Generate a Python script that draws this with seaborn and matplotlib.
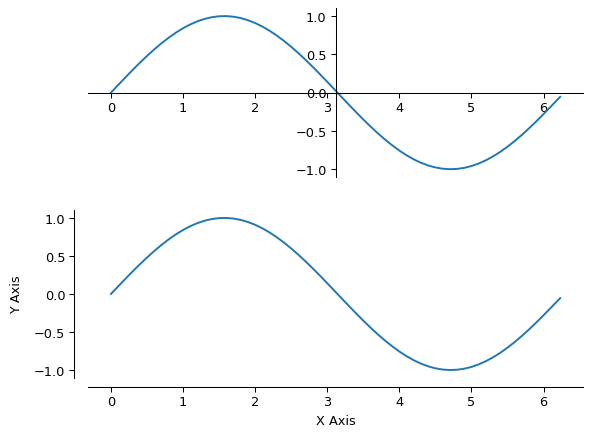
import matplotlib
matplotlib.use('Agg')
import matplotlib.pyplot as plt
import seaborn as sns

# sample points of the curve
x_vals = [0.0, 0.1, 0.2, 0.3, 0.4, 0.5, 0.6, 0.7, 0.8, 0.9,
          1.0, 1.1, 1.2, 1.3, 1.4, 1.5, 1.6, 1.7, 1.8, 1.9,
          2.0, 2.1, 2.2, 2.3, 2.4, 2.5, 2.6, 2.7, 2.8, 2.9,
          3.0, 3.1, 3.2, 3.3, 3.4, 3.5, 3.6, 3.7, 3.8, 3.9,
          4.0, 4.1, 4.2, 4.3, 4.4, 4.5, 4.6, 4.7, 4.8, 4.9,
          5.0, 5.1, 5.2, 5.3, 5.4, 5.5, 5.6, 5.7, 5.8, 5.9,
          6.0, 6.1, 6.23]
y_vals = [0.000, 0.0998, 0.1987, 0.2955, 0.3894, 0.4794, 0.5646, 0.6442, 0.7174, 0.7833,
          0.8415, 0.8912, 0.9320, 0.9636, 0.9854, 0.9975, 0.9996, 0.9917, 0.9738, 0.9463,
          0.9093, 0.8632, 0.8085, 0.7457, 0.6755, 0.5985, 0.5155, 0.4274, 0.3350, 0.2392,
          0.1411, 0.0416, -0.0584, -0.1577, -0.2555, -0.3508, -0.4425, -0.5298, -0.6119, -0.6878,
          -0.7568, -0.8183, -0.8716, -0.9162, -0.9516, -0.9775, -0.9937, -0.9999, -0.9962, -0.9825,
          -0.9589, -0.9258, -0.8835, -0.8323, -0.7728, -0.7055, -0.6313, -0.5507, -0.4646, -0.3739,
          -0.2794, -0.1822, -0.055]

fig, ax = plt.subplots(2, 1, figsize=(6.4, 4.75), dpi=92.8)

# Top: spines crossing in the middle
sns.lineplot(x=x_vals, y=y_vals, ax=ax[0])
ax[0].spines['left'].set_position('center')
ax[0].spines['bottom'].set_position('center')
ax[0].spines['top'].set_visible(False)
ax[0].spines['right'].set_visible(False)

# Bottom: despined with offset axes
sns.lineplot(x=x_vals, y=y_vals, ax=ax[1])
sns.despine(ax=ax[1], offset={'left': 11, 'bottom': 7})
ax[1].set_xlabel('X Axis')
ax[1].set_ylabel('Y Axis', labelpad=8.5)

ax[0].set_position([0.149, 0.597, 0.832, 0.382])
ax[1].set_position([0.149, 0.1415, 0.832, 0.3795])

fig.savefig('out.png')
